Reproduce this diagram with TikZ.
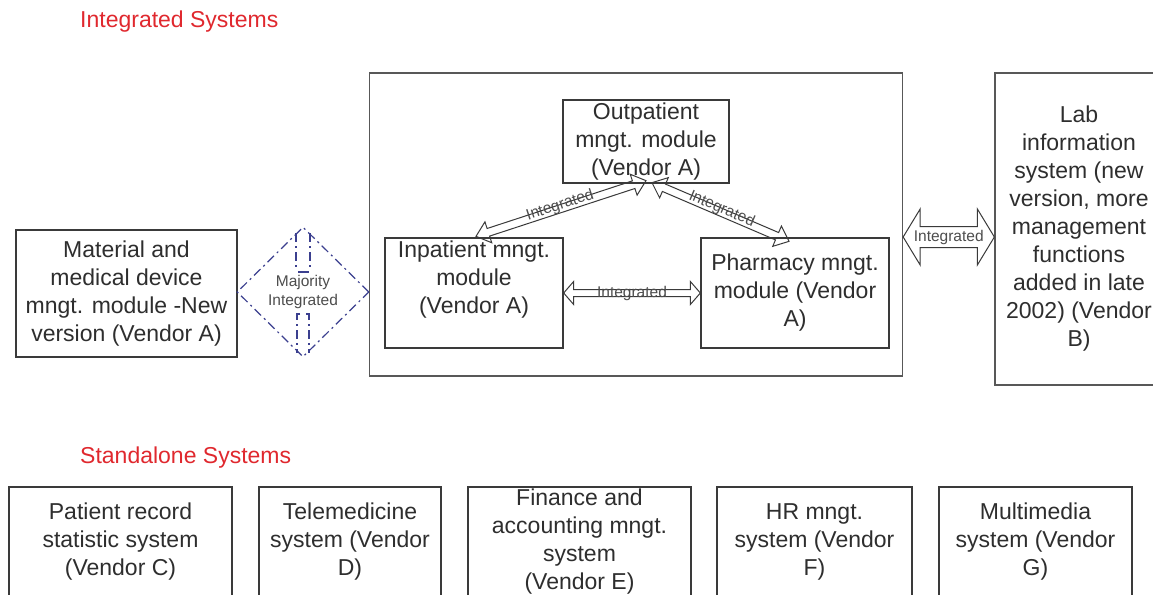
\documentclass[tikz,border=0pt]{standalone}
\usepackage{fontspec}
\setmainfont{Liberation Sans}
\usetikzlibrary{calc,shapes.geometric}
\definecolor{boxc}{HTML}{3A3A3A}
\definecolor{txtc}{HTML}{2E2E2E}
\definecolor{hdrc}{HTML}{E0282E}
\definecolor{diac}{HTML}{3B3F8F}
\newcommand{\mybody}{\fontsize{23}{28}\selectfont}
\newcommand{\mysmall}{\fontsize{15.5}{19}\selectfont}
\newcommand{\harrow}[6]{%
  \draw[#6] (#1) -- ($(#1)!#3!(#2)!#4!90:(#2)$) -- ($(#1)!#3!(#2)!#5!90:(#2)$)
   -- ($(#2)!#3!(#1)!#5!-90:(#1)$) -- ($(#2)!#3!(#1)!#4!-90:(#1)$) -- (#2)
   -- ($(#2)!#3!(#1)!#4!90:(#1)$) -- ($(#2)!#3!(#1)!#5!90:(#1)$)
   -- ($(#1)!#3!(#2)!#5!-90:(#2)$) -- ($(#1)!#3!(#2)!#4!-90:(#2)$) -- cycle;}
\tikzset{
  box/.style={draw=boxc, line width=1.3pt, inner sep=0pt, align=center, font=\mybody, text=txtc},
  txt/.style={inner sep=0pt, align=center, font=\mybody, text=txtc},
  hdr/.style={inner sep=0pt, font=\mybody, text=hdrc},
  lbl/.style={inner sep=0pt, font=\mysmall, text=txtc!85},
  arrline/.style={draw=boxc, line width=1pt, line join=miter},
  dd/.style={draw=diac, line width=1.2pt, dash pattern=on 9pt off 4pt on 2pt off 4pt}
}
\begin{document}
\begin{tikzpicture}[x=1pt,y=-1pt]
\useasboundingbox (0,0) rectangle (1153,594);
\fill[white] (0,0) rectangle (1153,594);
% headers
\node[hdr, anchor=west] (h1) at (80,22) {Integrated Systems};
\node[hdr, anchor=west] (h2) at (80,458) {Standalone Systems};
% integrated part
\node[box, draw=boxc!85, minimum width=533, minimum height=303] (cont) at (636,224.5) {};
\node[box, fill=white, minimum width=166, minimum height=83] (outp) at (646,141.5) {Outpatient\\mngt. module\\(Vendor A)};
\node[box, minimum width=178, minimum height=110] (inp) at (474,293) {};
\node[txt] (inpt) at (474,279.5) {Inpatient mngt.\\module\\(Vendor A)};
\node[box, minimum width=188, minimum height=110] (phar) at (795,293) {Pharmacy mngt.\\module (Vendor\\A)};
\node[box, minimum width=221, minimum height=127] (mat) at (126.5,293.5) {Material and\\medical device\\mngt. module -New\\version (Vendor A)};
\node[box, draw=boxc!85, minimum width=168, minimum height=312] (lab) at (1079,229) {Lab\\information\\system (new\\version, more\\management\\functions\\added in late\\2002) (Vendor\\B)};
% diamond
\node[diamond, dd, minimum width=132, minimum height=130, inner sep=0pt, align=center, font=\mysmall, text=txtc!85] (dia) at (303,292) {Majority\\Integrated};
\draw[dd] (296,233) -- (296,268);
\draw[dd] (310,233) -- (310,268);
\draw[diac, line width=1.2pt] (298,272) -- (309,272);
\draw[dd] (300,314) -- (297,314) -- (297,353);
\draw[dd] (306,314) -- (309,314) -- (309,353);
% arrows
\coordinate (o1) at ($(outp.south)+(0,-3)$);
\coordinate (i1) at ($(inp.north)+(2,-1)$);
\coordinate (o2) at ($(outp.south)+(6,-1)$);
\coordinate (p1) at ($(phar.north)+(-6,4)$);
\coordinate (c1) at ($(cont.east)+(0,12.5)$);
\coordinate (l1) at ($(lab.west)+(0,8)$);
\harrow{o1}{i1}{13pt}{11pt}{4pt}{arrline}
\harrow{o2}{p1}{13pt}{11pt}{4pt}{arrline}
\harrow{inp.east}{phar.west}{10pt}{11.5pt}{3.5pt}{arrline}
\harrow{c1}{l1}{17pt}{28pt}{10.5pt}{arrline, fill=white}
\path (o1) -- node[lbl, sloped, pos=0.5, yshift=3pt] (la) {Integrated} (i1);
\path (o2) -- node[lbl, sloped, pos=0.5, yshift=3pt] (lb) {Integrated} (p1);
\path (inp.east) -- node[lbl, pos=0.5] (lc) {Integrated} (phar.west);
\path (c1) -- node[lbl, pos=0.5] (ld) {Integrated} (l1);
% standalone
\node[box, minimum width=223, minimum height=110] (s1) at (120.5,542) {Patient record\\statistic system\\(Vendor C)};
\node[box, minimum width=182, minimum height=110] (s2) at (350,542) {Telemedicine\\system (Vendor\\D)};
\node[box, minimum width=223, minimum height=110] (s3) at (579.5,542) {Finance and\\accounting mngt.\\system\\(Vendor E)};
\node[box, minimum width=195, minimum height=110] (s4) at (814.5,542) {HR mngt.\\system (Vendor\\F)};
\node[box, minimum width=193, minimum height=110] (s5) at (1035.5,542) {Multimedia\\system (Vendor\\G)};
\end{tikzpicture}
\end{document}
